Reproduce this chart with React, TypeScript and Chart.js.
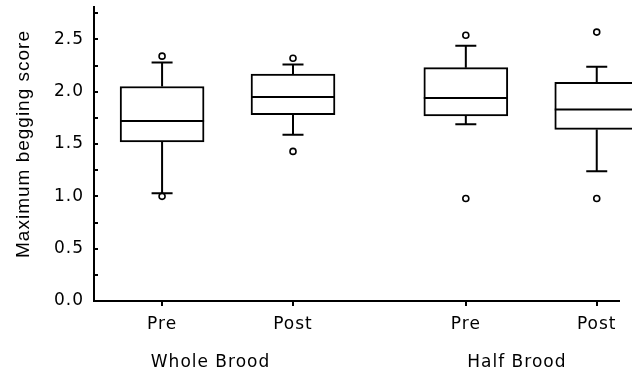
import React, { useEffect, useRef } from 'react';
import { Chart, registerables } from 'chart.js';

Chart.register(...registerables);

// ---- data ----
const categories = ['Pre', 'Post', 'Pre', 'Post'];
const groups = ['Whole Brood', 'Half Brood'];
const lowerWhisker = [1.03, 1.59, 1.69, 1.24];
const q1 = [1.52, 1.78, 1.77, 1.64];
const median = [1.72, 1.95, 1.94, 1.83];
const q3 = [2.05, 2.17, 2.23, 2.09];
const upperWhisker = [2.28, 2.26, 2.44, 2.24];
const outliers = [
  [1.0, 2.34],
  [1.43, 2.32],
  [0.98, 2.54],
  [0.98, 2.57],
];
const yTickLabels = [0, 0.5, 1.0, 1.5, 2.0, 2.5];
const yTitle = 'Maximum begging score';

// ---- layout (axis slots in data space) ----
const slots = [1, 2, 3.32, 4.32];
const groupCenters = [1.37, 3.71];

const FONT = '"DejaVu Sans", sans-serif';

const boxPlotPlugin = {
  id: 'boxPlotExtras',
  beforeDraw(chart: any) {
    (chart.ctx as any).letterSpacing = '1px';
  },
  beforeDatasetsDraw(chart: any) {
    const { ctx, scales } = chart;
    const x = scales.x;
    const y = scales.y;
    const capHalf = 10.5;
    ctx.save();
    ctx.strokeStyle = '#000';
    ctx.lineWidth = 2;
    slots.forEach((s, i) => {
      const px = x.getPixelForValue(s);
      const segs = [
        [q3[i], upperWhisker[i]],
        [q1[i], lowerWhisker[i]],
      ];
      segs.forEach(([from, to]) => {
        const y0 = y.getPixelForValue(from);
        const y1 = y.getPixelForValue(to);
        ctx.beginPath();
        ctx.moveTo(px, y0);
        ctx.lineTo(px, y1);
        ctx.moveTo(px - capHalf, y1);
        ctx.lineTo(px + capHalf, y1);
        ctx.stroke();
      });
    });
    ctx.restore();
  },
  afterDatasetsDraw(chart: any) {
    const { ctx, scales } = chart;
    const y = scales.y;
    const meta = chart.getDatasetMeta(0);
    ctx.save();
    ctx.strokeStyle = '#000';
    ctx.lineWidth = 2;
    meta.data.forEach((el: any, i: number) => {
      const py = y.getPixelForValue(median[i]);
      ctx.beginPath();
      ctx.moveTo(el.x - el.width / 2, py);
      ctx.lineTo(el.x + el.width / 2, py);
      ctx.stroke();
    });
    ctx.restore();
  },
  afterDraw(chart: any) {
    const { ctx, scales, chartArea } = chart;
    const x = scales.x;
    ctx.save();
    (ctx as any).letterSpacing = '1px';
    ctx.fillStyle = '#000';
    ctx.font = `17px ${FONT}`;
    ctx.textAlign = 'center';
    ctx.textBaseline = 'alphabetic';
    groups.forEach((g, i) => {
      ctx.fillText(g, x.getPixelForValue(groupCenters[i]), chartArea.bottom + 66);
    });
    ctx.restore();

    ctx.save();
    (ctx as any).letterSpacing = '1px';
    ctx.fillStyle = '#000';
    ctx.font = '19px "Liberation Sans", Arial, sans-serif';
    ctx.textAlign = 'center';
    ctx.textBaseline = 'alphabetic';
    ctx.translate(29, (chartArea.top + chartArea.bottom) / 2 - 10);
    ctx.rotate(-Math.PI / 2);
    ctx.fillText(yTitle, 0, 0);
    ctx.restore();
  },
};

export default function App() {
  const canvasRef = useRef<HTMLCanvasElement | null>(null);

  useEffect(() => {
    if (!canvasRef.current) return;
    const chart = new Chart(canvasRef.current, {
      type: 'bar',
      data: {
        datasets: [
          {
            type: 'bar',
            data: slots.map((s, i) => ({ x: s, y: [q1[i], q3[i]] })) as any,
            backgroundColor: '#ffffff',
            borderColor: '#000000',
            borderWidth: 2,
            borderSkipped: false,
            barThickness: 84,
            grouped: false,
            clip: false as any,
          } as any,
          {
            type: 'scatter',
            data: outliers.flatMap((arr, i) => arr.map((v) => ({ x: slots[i], y: v }))),
            pointRadius: 3,
            pointBackgroundColor: '#ffffff',
            pointBorderColor: '#000000',
            pointBorderWidth: 1.6,
            clip: false as any,
          } as any,
        ],
      },
      options: {
        animation: false,
        responsive: true,
        maintainAspectRatio: false,
        layout: { padding: { top: 7, right: 13, left: 0, bottom: 0 } },
        plugins: {
          legend: { display: false },
          tooltip: { enabled: false },
        },
        scales: {
          x: {
            type: 'linear',
            position: 'bottom',
            offset: false,
            min: 0.48,
            max: 4.49,
            afterBuildTicks: (s: any) => {
              s.ticks = slots.map((v) => ({ value: v }));
            },
            afterFit: (s: any) => {
              s.height = 73;
              s.paddingLeft = 0;
              s.paddingRight = 0;
            },
            ticks: {
              callback: (_v: any, i: number) => categories[i],
              color: '#000',
              font: { family: FONT, size: 17 },
              padding: 8,
              maxRotation: 0,
              autoSkip: false,
            },
            grid: {
              offset: false,
              drawOnChartArea: false,
              drawTicks: true,
              tickLength: 5,
              color: '#000',
              lineWidth: 2,
            },
            border: { color: '#000', width: 2 },
          },
          y: {
            type: 'linear',
            min: 0,
            max: 2.81,
            afterBuildTicks: (s: any) => {
              const t = [];
              for (let k = 0; k <= 11; k++) t.push({ value: k * 0.25 });
              s.ticks = t;
            },
            afterFit: (s: any) => {
              s.width = 94;
              s.paddingTop = 0;
              s.paddingBottom = 0;
            },
            ticks: {
              callback: (v: any) => {
                const hit = yTickLabels.find((t) => Math.abs(t - v) < 1e-9);
                return hit === undefined ? '' : hit.toFixed(1);
              },
              color: '#000',
              font: { family: FONT, size: 17 },
              padding: 14,
            },
            grid: {
              drawOnChartArea: false,
              drawTicks: true,
              tickLength: -4,
              color: '#000',
              lineWidth: 2,
            },
            border: { color: '#000', width: 2 },
          },
        },
      } as any,
      plugins: [boxPlotPlugin],
    });
    return () => chart.destroy();
  }, []);

  return (
    <div style={{ position: 'absolute', left: 0, top: 0, width: 632, height: 374, background: '#fff' }}>
      <canvas ref={canvasRef} />
    </div>
  );
}
